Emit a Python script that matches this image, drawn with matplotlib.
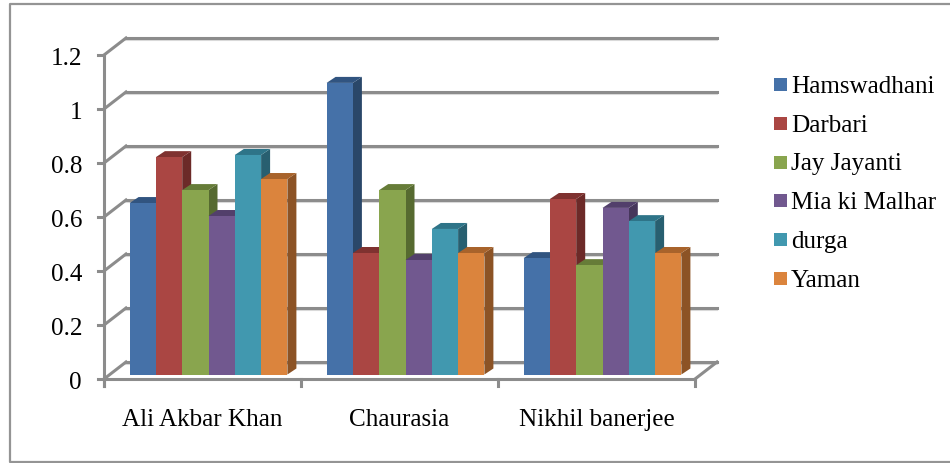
import matplotlib
matplotlib.use("Agg")
import matplotlib.pyplot as plt
from matplotlib.patches import Polygon, Rectangle
import numpy as np

plt.rcParams['font.family'] = ['Liberation Serif', 'DejaVu Serif']

################### Data ###################
singers = ["Ali Akbar Khan", "Chaurasia", "Nikhil banerjee"]
ragas = ["Hamswadhani", "Darbari", "Jay Jayanti", "Mia ki Malhar", "durga", "Yaman"]
hamswadhani = [0.635, 1.08, 0.431]
darbari = [0.805, 0.45, 0.65]
jay_jayanti = [0.683, 0.683, 0.405]
mia_ki_malhar = [0.587, 0.424, 0.617]
durga = [0.813, 0.539, 0.568]
yaman = [0.724, 0.45, 0.45]
series = [hamswadhani, darbari, jay_jayanti, mia_ki_malhar, durga, yaman]
y_ticks = [0, 0.2, 0.4, 0.6, 0.8, 1, 1.2]
y_labels = ["0", "0.2", "0.4", "0.6", "0.8", "1", "1.2"]

front_cols = ["#4571a8", "#aa4643", "#89a54e", "#71588f", "#4198af", "#db843d"]
top_cols = ["#315480", "#7f3230", "#667c38", "#523f6b", "#2e7488", "#a8632b"]
side_cols = ["#2a4769", "#6c2a28", "#566a30", "#46365b", "#285f70", "#8c5325"]

W, H = 950, 463
GRID = "#8c8c8c"
FS = 18.1

fig = plt.figure(figsize=(W / 100, H / 100), dpi=100)
# axes box = front plane of the fake 3d chart, 104..695 px across, 55..379 px down
ax = fig.add_axes([104 / W, 1 - 379 / H, 591 / W, 324 / H])
ax.set_xlim(0, 3)
ax.set_ylim(0, 1.2)
ax.axis("off")

px_x = 3 / 591
px_y = 1.2 / 324
wall_dx, wall_dy = 22 * px_x, 17 * px_y      # back wall offset
front_dx, front_dy = 6 * px_x, 4.5 * px_y    # where bars stand on the floor
bar_dx, bar_dy = 9 * px_x, 6 * px_y          # bar depth
bar_w = 26.3 * px_x
grid_lw = 2.2

# outer frame, runs off the right edge of the picture
xs, ys = [950, 10, 10, 950], [4, 4, 462, 462]
fig.add_artist(plt.Line2D([x / W for x in xs], [1 - y / H for y in ys], color="#949494", lw=1.6))

# back wall grid and left wall
for t, lab in zip(y_ticks, y_labels):
    ax.plot([wall_dx, 3 + wall_dx], [t + wall_dy - 2 * px_y] * 2, color="#dcdcdc", lw=1.5,
            clip_on=False, zorder=1)
    ax.plot([wall_dx, 3 + wall_dx], [t + wall_dy] * 2, color=GRID, lw=grid_lw, clip_on=False, zorder=2)
    ax.plot([0, wall_dx], [t, t + wall_dy], color=GRID, lw=grid_lw, clip_on=False, zorder=2)
    ax.plot([-6 * px_x, 0], [t, t], color=GRID, lw=grid_lw, clip_on=False, zorder=2)
    ax.text(-22 * px_x, t - 10 * px_y, lab, ha="right", va="baseline", fontsize=FS,
            color="black", clip_on=False)

# floor and axis lines
ax.plot([0, 0], [-7 * px_y, 1.2], color=GRID, lw=grid_lw, clip_on=False, zorder=2)
ax.plot([0, 3], [0, 0], color=GRID, lw=grid_lw, clip_on=False, zorder=2)
ax.plot([3, 3 + wall_dx], [0, wall_dy], color=GRID, lw=grid_lw, clip_on=False, zorder=2)
for i in range(4):
    ax.plot([i, i], [-7 * px_y, 0], color=GRID, lw=grid_lw, clip_on=False, zorder=2)

# bars, left to right so that each one covers the side of the one before
z = 3
for g in range(len(singers)):
    left = g + 0.5 - 3 * bar_w + front_dx
    for s, vals in enumerate(series):
        v = vals[g]
        x0 = left + s * bar_w
        x1 = x0 + bar_w
        top = v + front_dy
        ax.add_patch(Polygon([(x1, front_dy), (x1 + bar_dx, front_dy + bar_dy),
                              (x1 + bar_dx, top + bar_dy), (x1, top)],
                             fc=side_cols[s], ec="none", zorder=z, clip_on=False))
        ax.add_patch(Polygon([(x0, top), (x0 + bar_dx, top + bar_dy),
                              (x1 + bar_dx, top + bar_dy), (x1, top)],
                             fc=top_cols[s], ec="none", zorder=z, clip_on=False))
        ax.bar(x0, v, width=bar_w, bottom=front_dy, align="edge", color=front_cols[s],
               edgecolor="none", zorder=z + 0.5, clip_on=False)
        z += 1
    ax.text(g + 0.5, -47 * px_y, singers[g], ha="center", va="baseline", fontsize=FS,
            color="black", clip_on=False)

# legend
leg_base = 92.7
leg_step = 38.8
for s, name in enumerate(ragas):
    y = leg_base + s * leg_step
    fig.add_artist(Rectangle((774 / W, 1 - (y - 1.7) / H), 13 / W, 13 / H, transform=fig.transFigure,
                             fc=front_cols[s], ec="none"))
    fig.text(791 / W, 1 - y / H, name, ha="left", va="baseline", fontsize=FS, color="black")

fig.savefig("out.png", dpi=100)
